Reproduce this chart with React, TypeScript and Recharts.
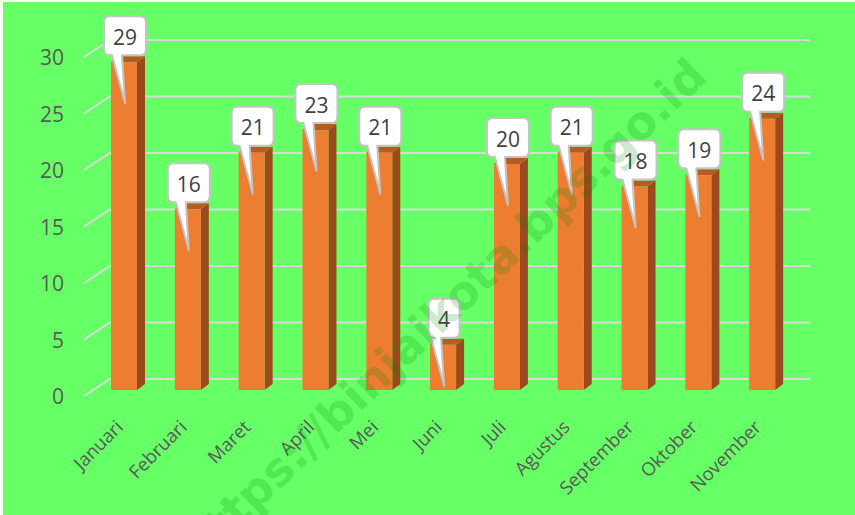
import React from 'react';
import { BarChart, Bar, XAxis, YAxis, CartesianGrid, LabelList } from 'recharts';

const months = ['Januari', 'Februari', 'Maret', 'April', 'Mei', 'Juni', 'Juli', 'Agustus', 'September', 'Oktober', 'November'];
const values = [29, 16, 21, 23, 21, 4, 20, 21, 18, 19, 24];
const yTicks = [0, 5, 10, 15, 20, 25, 30];
const watermark = 'https://binjaikota.bps.go.id';

const data = months.map((m, i) => ({ month: m, value: values[i] }));

const FONT = '"Open Sans", "Segoe UI", sans-serif';
const BG = '#66FF66';
const DEPTH_X = 8;
const DEPTH_Y = 6;
const LIFT = 6;

const Bar3D = (props: any) => {
  const { x, y, width, height } = props;
  if (x == null || y == null) return null;
  const fy = y - LIFT;
  const top = `${x},${fy} ${x + width},${fy} ${x + width + DEPTH_X},${fy - DEPTH_Y} ${x + DEPTH_X},${fy - DEPTH_Y}`;
  const side = `${x + width},${fy} ${x + width + DEPTH_X},${fy - DEPTH_Y} ${x + width + DEPTH_X},${fy + height - DEPTH_Y} ${x + width},${fy + height}`;
  return (
    <g>
      <polygon points={side} fill="#9A4A1C" />
      <polygon points={top} fill="#B85A24" />
      <rect x={x} y={fy} width={width} height={height} fill="#ED7D31" />
    </g>
  );
};

const Callout = (props: any) => {
  const { x, y, width, value } = props;
  if (x == null || y == null) return null;
  const cx = x + width / 2;
  const frontTop = y - LIFT;
  const bw = value >= 10 ? 42 : 31;
  const bh = 39;
  const bottom = frontTop - 7;
  const top = bottom - bh;
  const left = cx - bw / 2 + 1;
  const right = left + bw;
  const r = 6;
  const tipX = cx + 1;
  const tipY = frontTop + 41;
  const d = `M ${left + r} ${top} H ${right - r} Q ${right} ${top} ${right} ${top + r} V ${bottom - r} Q ${right} ${bottom} ${right - r} ${bottom} H ${cx - 2} L ${tipX} ${tipY} L ${cx - 12} ${bottom} H ${left + r} Q ${left} ${bottom} ${left} ${bottom - r} V ${top + r} Q ${left} ${top} ${left + r} ${top} Z`;
  return (
    <g>
      <path d={d} fill="#FFFFFF" stroke="#C4C4C4" strokeWidth={2} strokeLinejoin="round" />
      <text x={left + bw / 2} y={top + bh / 2 + 1} textAnchor="middle" dominantBaseline="central" fontFamily={FONT} fontSize={21} fill="#404040">
        {value}
      </text>
    </g>
  );
};

const GridLine = (props: any) => {
  const { x1, x2, y1, key } = props;
  const d = `M ${x1 - 8} ${y1} L ${x1 + 18} ${y1 - 17} L ${x2 + 16} ${y1 - 17}`;
  return <path key={key} d={d} fill="none" stroke="#D9D9D9" strokeWidth={2} />;
};

const YTick = (props: any) => {
  const { y, payload } = props;
  return (
    <text x={64} y={y} textAnchor="end" dominantBaseline="central" fontFamily={FONT} fontSize={21} fill="#595959">
      {payload.value}
    </text>
  );
};

const XTick = (props: any) => {
  const { x, y, payload } = props;
  return (
    <g transform={`translate(${x - 5},${y + 27}) rotate(-45)`}>
      <text x={0} y={0} textAnchor="end" dominantBaseline="central" fontFamily={FONT} fontSize={18.5} fill="#595959">
        {payload.value}
      </text>
    </g>
  );
};

export default function App() {
  return (
    <div style={{ position: 'absolute', left: 0, top: 0, width: 855, height: 515, background: BG, boxShadow: 'inset 3px 2px 0 #FFFFFF' }}>
      <BarChart width={855} height={515} data={data} margin={{ top: 57, right: 61, left: 0, bottom: 0 }} barSize={26}>
        <CartesianGrid horizontal={GridLine} vertical={false} />
        <XAxis dataKey="month" axisLine={false} tickLine={false} tickSize={0} tickMargin={0} height={119} interval={0} tick={<XTick />} />
        <YAxis domain={[0, 30]} ticks={yTicks} axisLine={false} tickLine={false} tickSize={0} tickMargin={0} width={92} tick={<YTick />} interval={0} />
        <Bar dataKey="value" shape={<Bar3D />} isAnimationActive={false}>
          <LabelList dataKey="value" content={<Callout />} />
        </Bar>
      </BarChart>
      <svg width={855} height={515} style={{ position: 'absolute', left: 0, top: 0, pointerEvents: 'none' }}>
        <text
          x={443}
          y={311}
          transform="rotate(-43.7 443 311)"
          textAnchor="middle"
          dominantBaseline="central"
          fontFamily='"DejaVu Sans", sans-serif'
          fontWeight="bold"
          fontSize={46}
          fill="#008800"
          fillOpacity={0.2}
        >
          {watermark}
        </text>
      </svg>
    </div>
  );
}
